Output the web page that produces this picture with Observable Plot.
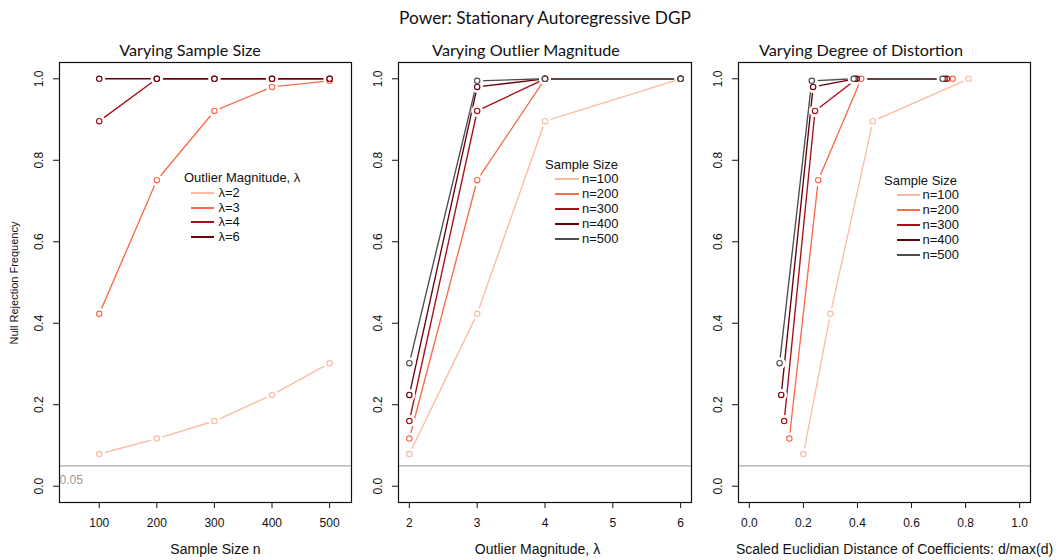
<!DOCTYPE html>
<html>
<head>
<meta charset="utf-8">
<script src="https://cdn.jsdelivr.net/npm/d3@7"></script>
<script src="https://cdn.jsdelivr.net/npm/@observablehq/plot@0.6"></script>
<style>
  body { margin: 0; background: white; }
  #root { position: relative; width: 1062px; height: 560px; background: white; overflow: hidden; }
  .abs { position: absolute; white-space: nowrap; }
  .title { font-family: Lato, "Open Sans", sans-serif; color: #111; }
  .axt { font-family: "Liberation Sans", Arial, sans-serif; color: #111; }
  .leg { font-family: "Liberation Sans", Arial, sans-serif; font-size: 13px; color: #111; }
</style>
</head>
<body>
<div id="root"></div>
<script>
// ---------------- data ----------------
const sampleSizes = [100, 200, 300, 400, 500];
const magnitudes = [2, 3, 4, 6];
const sizeLabels = ["n=100", "n=200", "n=300", "n=400", "n=500"];
const magnitudeLabels = ["λ=2", "λ=3", "λ=4", "λ=6"];
const palette = ["#FCBBA1", "#FB6A4A", "#A50F15", "#67000D", "#4D4D4D"];

// null rejection frequency, one array per sample size, values for λ = 2,3,4,6
const power_n100 = [0.079, 0.423, 0.896, 1.000];
const power_n200 = [0.117, 0.751, 1.000, 1.000];
const power_n300 = [0.160, 0.921, 1.000, 1.000];
const power_n400 = [0.224, 0.980, 1.000, 1.000];
const power_n500 = [0.302, 0.995, 1.000, 1.000];

// scaled euclidian distance of coefficients d/max(d), for λ = 2,3,4,6
const dist_n100 = [0.200, 0.300, 0.457, 0.811];
const dist_n200 = [0.148, 0.255, 0.414, 0.752];
const dist_n300 = [0.129, 0.243, 0.398, 0.731];
const dist_n400 = [0.118, 0.236, 0.392, 0.722];
const dist_n500 = [0.112, 0.231, 0.386, 0.715];

const yTicks = [0, 0.2, 0.4, 0.6, 0.8, 1.0];
const xTicksSize = [100, 200, 300, 400, 500];
const xTicksMagnitude = [2, 3, 4, 5, 6];
const xTicksDistance = [0, 0.2, 0.4, 0.6, 0.8, 1.0];
const refLevel = 0.05;

// ---------------- tables ----------------
const powers = [power_n100, power_n200, power_n300, power_n400, power_n500];
const dists = [dist_n100, dist_n200, dist_n300, dist_n400, dist_n500];
const rowsBySize = [];
sampleSizes.forEach((n, i) => magnitudes.forEach((l, j) => rowsBySize.push({
  n, lambda: l, power: powers[i][j], dist: dists[i][j], nLab: sizeLabels[i], lLab: magnitudeLabels[j]
})));
const rowsByLambda = [];
magnitudes.forEach((l, j) => sampleSizes.forEach((n, i) => rowsByLambda.push({
  n, lambda: l, power: powers[i][j], dist: dists[i][j], nLab: sizeLabels[i], lLab: magnitudeLabels[j]
})));

const root = document.getElementById("root");
const FONT = "'Liberation Sans', Arial, sans-serif";

function panel({left, width, marginLeft, marginRight, xDomain, xTicks, xFormat, data, xKey, seriesKey, seriesDomain, refLabel}) {
  const marks = [
    Plot.ruleY([refLevel], {stroke: "#aaaaaa", strokeWidth: 1.4}),
    Plot.line(data, {x: xKey, y: "power", z: seriesKey, stroke: seriesKey, strokeWidth: 1.35}),
    Plot.dot(data, {x: xKey, y: "power", r: 6, fill: "white", stroke: "none"}),
    Plot.dot(data, {x: xKey, y: "power", r: 2.7, fill: "white", stroke: seriesKey, strokeWidth: 1.15}),
    Plot.frame({stroke: "#111", strokeWidth: 1.2}),
    Plot.axisX({ticks: xTicks, tickSize: 6, tickPadding: 10, tickFormat: xFormat, label: null, fontSize: 12, stroke: "#111"}),
    Plot.axisY({ticks: yTicks, tickSize: 6, tickFormat: () => "", label: null, stroke: "#111"}),
    Plot.text(yTicks, {y: d => d, text: d => d.toFixed(1), frameAnchor: "left", dx: -20, rotate: -90,
      textAnchor: "middle", lineAnchor: "middle", fontSize: 12, fill: "#111"})
  ];
  if (refLabel) {
    marks.push(Plot.text([refLevel], {y: d => d, text: d => String(d), frameAnchor: "left",
      textAnchor: "start", dy: 14, fontSize: 12, fill: "#999"}));
  }
  const svg = Plot.plot({
    width, height: 560,
    marginTop: 62, marginBottom: 58, marginLeft, marginRight,
    x: {domain: xDomain},
    y: {domain: [-0.04, 1.04]},
    color: {domain: seriesDomain, range: palette.slice(0, seriesDomain.length)},
    style: {fontFamily: FONT, fontSize: "12px", background: "transparent", color: "#111"},
    marks
  });
  svg.style.position = "absolute";
  svg.style.left = left + "px";
  svg.style.top = "0px";
  root.appendChild(svg);
}

panel({left: 0, width: 354, marginLeft: 59, marginRight: 3, xDomain: [31, 538], xTicks: xTicksSize,
  xFormat: d => String(d), data: rowsByLambda, xKey: "n", seriesKey: "lLab", seriesDomain: magnitudeLabels, refLabel: true});
panel({left: 354, width: 340, marginLeft: 44, marginRight: 3, xDomain: [1.84, 6.16], xTicks: xTicksMagnitude,
  xFormat: d => String(d), data: rowsBySize, xKey: "lambda", seriesKey: "nLab", seriesDomain: sizeLabels});
panel({left: 694, width: 368, marginLeft: 44, marginRight: 32, xDomain: [-0.04, 1.04], xTicks: xTicksDistance,
  xFormat: d => d.toFixed(1), data: rowsBySize, xKey: "dist", seriesKey: "nLab", seriesDomain: sizeLabels});

// ---------------- text ----------------
function label(text, cx, cy, cls, size, rotate) {
  const d = document.createElement("div");
  d.className = "abs " + cls;
  d.textContent = text;
  d.style.fontSize = size + "px";
  d.style.lineHeight = "1";
  d.style.left = cx + "px";
  d.style.top = cy + "px";
  d.style.transform = "translate(-50%,-50%)" + (rotate ? " rotate(" + rotate + "deg)" : "");
  root.appendChild(d);
}
label("Power: Stationary Autoregressive DGP", 545, 18, "title", 17.3);
label("Varying Sample Size", 190, 50, "title", 16.2);
label("Varying Outlier Magnitude", 526, 50, "title", 16.2);
label("Varying Degree of Distortion", 861, 50, "title", 16.2);
label("Sample Size n", 215.5, 549, "axt", 14);
label("Outlier Magnitude, λ", 537.5, 549, "axt", 14);
label("Scaled Euclidian Distance of Coefficients: d/max(d)", 894.5, 549, "axt", 14);
label("Null Rejection Frequency", 14, 283, "axt", 11, -90);

// ---------------- legends ----------------
function legend({left, titleY, title, labels, colors, swatchLeft, textLeft, step}) {
  const t = document.createElement("div");
  t.className = "abs leg";
  t.textContent = title;
  t.style.left = left + "px";
  t.style.top = (titleY - 8) + "px";
  t.style.lineHeight = "16px";
  root.appendChild(t);
  labels.forEach((lab, i) => {
    const y = titleY + step * (i + 1);
    const sw = document.createElement("div");
    sw.className = "abs";
    sw.style.left = swatchLeft + "px";
    sw.style.top = (y - 1) + "px";
    sw.style.width = "23.5px";
    sw.style.height = "2px";
    sw.style.background = colors[i];
    root.appendChild(sw);
    const tx = document.createElement("div");
    tx.className = "abs leg";
    tx.textContent = lab;
    tx.style.left = textLeft + "px";
    tx.style.top = (y - 8) + "px";
    tx.style.lineHeight = "16px";
    root.appendChild(tx);
  });
}
legend({left: 184, titleY: 178, title: "Outlier Magnitude, λ", labels: magnitudeLabels, colors: palette.slice(0, 4),
  swatchLeft: 190.7, textLeft: 218.5, step: 14.8});
legend({left: 545, titleY: 164.5, title: "Sample Size", labels: sizeLabels, colors: palette,
  swatchLeft: 555, textLeft: 582, step: 14.9});
legend({left: 884, titleY: 180.5, title: "Sample Size", labels: sizeLabels, colors: palette,
  swatchLeft: 896.7, textLeft: 922.5, step: 14.8});
</script>
</body>
</html>
